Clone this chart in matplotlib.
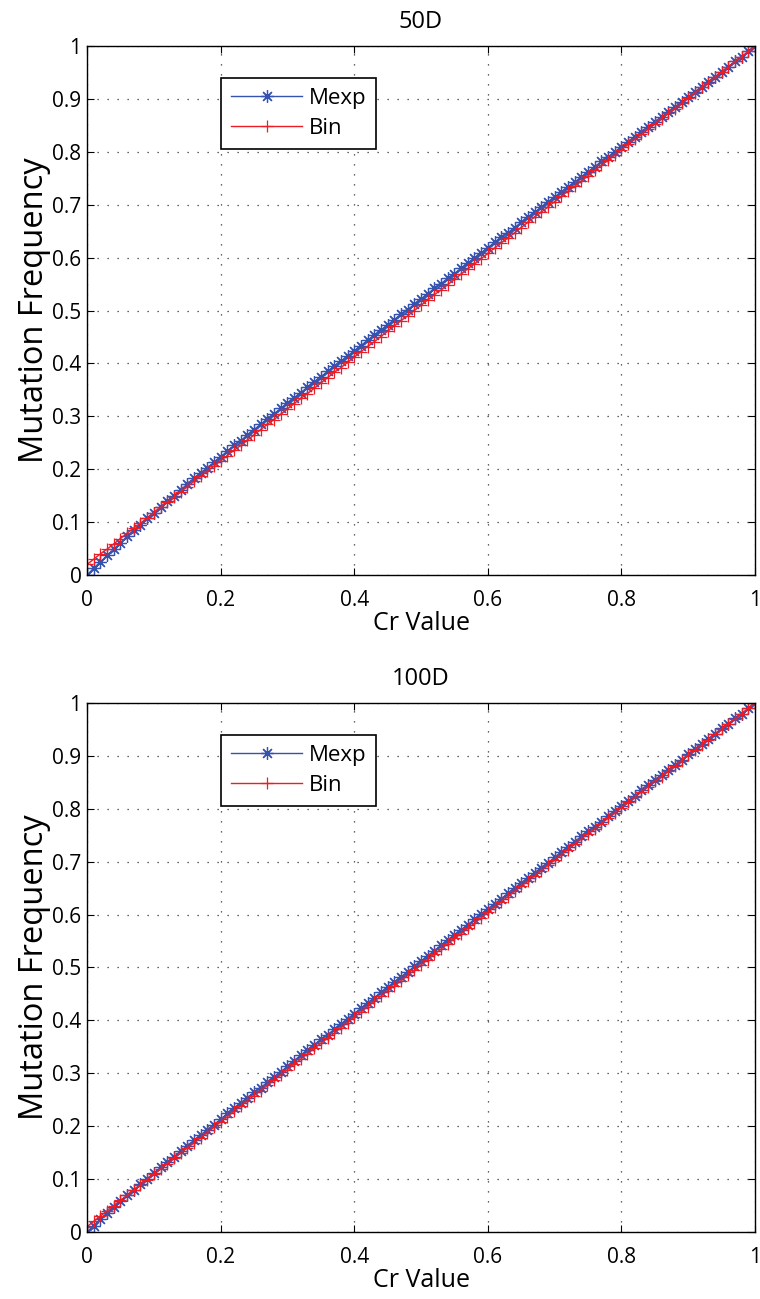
import matplotlib
matplotlib.use('Agg')
import matplotlib.pyplot as plt

plt.rcParams['font.family'] = ['Open Sans', 'DejaVu Sans']

cr = [0.00, 0.01, 0.02, 0.03, 0.04, 0.05, 0.06, 0.07, 0.08, 0.09,
      0.10, 0.11, 0.12, 0.13, 0.14, 0.15, 0.16, 0.17, 0.18, 0.19,
      0.20, 0.21, 0.22, 0.23, 0.24, 0.25, 0.26, 0.27, 0.28, 0.29,
      0.30, 0.31, 0.32, 0.33, 0.34, 0.35, 0.36, 0.37, 0.38, 0.39,
      0.40, 0.41, 0.42, 0.43, 0.44, 0.45, 0.46, 0.47, 0.48, 0.49,
      0.50, 0.51, 0.52, 0.53, 0.54, 0.55, 0.56, 0.57, 0.58, 0.59,
      0.60, 0.61, 0.62, 0.63, 0.64, 0.65, 0.66, 0.67, 0.68, 0.69,
      0.70, 0.71, 0.72, 0.73, 0.74, 0.75, 0.76, 0.77, 0.78, 0.79,
      0.80, 0.81, 0.82, 0.83, 0.84, 0.85, 0.86, 0.87, 0.88, 0.89,
      0.90, 0.91, 0.92, 0.93, 0.94, 0.95, 0.96, 0.97, 0.98, 0.99,
      1.00]

# 50D
mexp_50 = [0.000, 0.013, 0.025, 0.037, 0.049, 0.061, 0.073, 0.085, 0.095, 0.107,
           0.118, 0.129, 0.140, 0.150, 0.161, 0.172, 0.183, 0.193, 0.203, 0.213,
           0.224, 0.234, 0.245, 0.254, 0.265, 0.275, 0.285, 0.295, 0.305, 0.315,
           0.325, 0.335, 0.345, 0.355, 0.365, 0.375, 0.385, 0.395, 0.404, 0.414,
           0.424, 0.434, 0.444, 0.453, 0.463, 0.473, 0.483, 0.493, 0.502, 0.512,
           0.522, 0.532, 0.542, 0.551, 0.561, 0.570, 0.580, 0.590, 0.599, 0.609,
           0.619, 0.629, 0.639, 0.647, 0.657, 0.667, 0.677, 0.686, 0.695, 0.705,
           0.715, 0.724, 0.734, 0.743, 0.752, 0.762, 0.772, 0.782, 0.790, 0.800,
           0.810, 0.819, 0.829, 0.837, 0.847, 0.857, 0.866, 0.876, 0.885, 0.894,
           0.904, 0.914, 0.923, 0.932, 0.942, 0.952, 0.961, 0.971, 0.980, 0.990,
           1.000]
bin_50 = [0.020, 0.030, 0.040, 0.049, 0.059, 0.069, 0.079, 0.089, 0.098, 0.108,
          0.118, 0.128, 0.138, 0.147, 0.157, 0.167, 0.177, 0.187, 0.196, 0.206,
          0.216, 0.226, 0.236, 0.245, 0.255, 0.265, 0.275, 0.285, 0.294, 0.304,
          0.314, 0.324, 0.334, 0.343, 0.353, 0.363, 0.373, 0.383, 0.392, 0.402,
          0.412, 0.422, 0.432, 0.441, 0.451, 0.461, 0.471, 0.481, 0.490, 0.500,
          0.510, 0.520, 0.530, 0.539, 0.549, 0.559, 0.569, 0.579, 0.588, 0.598,
          0.608, 0.618, 0.628, 0.637, 0.647, 0.657, 0.667, 0.677, 0.686, 0.696,
          0.706, 0.716, 0.726, 0.735, 0.745, 0.755, 0.765, 0.775, 0.784, 0.794,
          0.804, 0.814, 0.824, 0.833, 0.843, 0.853, 0.863, 0.873, 0.882, 0.892,
          0.902, 0.912, 0.922, 0.931, 0.941, 0.951, 0.961, 0.971, 0.980, 0.990,
          1.000]

# 100D
mexp_100 = [0.000, 0.012, 0.024, 0.036, 0.048, 0.059, 0.069, 0.080, 0.090, 0.101,
            0.111, 0.122, 0.132, 0.142, 0.153, 0.163, 0.173, 0.183, 0.193, 0.203,
            0.213, 0.224, 0.234, 0.244, 0.254, 0.264, 0.273, 0.283, 0.293, 0.303,
            0.313, 0.324, 0.334, 0.344, 0.354, 0.364, 0.373, 0.383, 0.393, 0.403,
            0.413, 0.423, 0.433, 0.443, 0.453, 0.463, 0.472, 0.482, 0.492, 0.502,
            0.512, 0.522, 0.532, 0.542, 0.552, 0.562, 0.571, 0.581, 0.591, 0.601,
            0.611, 0.620, 0.630, 0.640, 0.650, 0.660, 0.669, 0.679, 0.689, 0.698,
            0.708, 0.718, 0.728, 0.738, 0.748, 0.758, 0.766, 0.776, 0.786, 0.796,
            0.806, 0.815, 0.825, 0.835, 0.845, 0.855, 0.864, 0.873, 0.883, 0.893,
            0.903, 0.913, 0.923, 0.932, 0.942, 0.952, 0.961, 0.971, 0.980, 0.990,
            1.000]
bin_100 = [0.010, 0.020, 0.030, 0.040, 0.050, 0.060, 0.069, 0.079, 0.089, 0.099,
           0.109, 0.119, 0.129, 0.139, 0.149, 0.159, 0.168, 0.178, 0.188, 0.198,
           0.208, 0.218, 0.228, 0.238, 0.248, 0.258, 0.267, 0.277, 0.287, 0.297,
           0.307, 0.317, 0.327, 0.337, 0.347, 0.357, 0.366, 0.376, 0.386, 0.396,
           0.406, 0.416, 0.426, 0.436, 0.446, 0.456, 0.465, 0.475, 0.485, 0.495,
           0.505, 0.515, 0.525, 0.535, 0.545, 0.555, 0.564, 0.574, 0.584, 0.594,
           0.604, 0.614, 0.624, 0.634, 0.644, 0.654, 0.663, 0.673, 0.683, 0.693,
           0.703, 0.713, 0.723, 0.733, 0.743, 0.753, 0.762, 0.772, 0.782, 0.792,
           0.802, 0.812, 0.822, 0.832, 0.842, 0.852, 0.861, 0.871, 0.881, 0.891,
           0.901, 0.911, 0.921, 0.931, 0.941, 0.951, 0.960, 0.970, 0.980, 0.990,
           1.000]

panels = [('50D', mexp_50, bin_50), ('100D', mexp_100, bin_100)]
xticks = [0, 0.2, 0.4, 0.6, 0.8, 1]
xticklabels = ['0', '0.2', '0.4', '0.6', '0.8', '1']
yticks = [0, 0.1, 0.2, 0.3, 0.4, 0.5, 0.6, 0.7, 0.8, 0.9, 1]
yticklabels = ['0', '0.1', '0.2', '0.3', '0.4', '0.5', '0.6', '0.7', '0.8', '0.9', '1']

fig = plt.figure(figsize=(7.6, 12.99), dpi=100)
axes_rects = [[0.1145, 0.5573, 0.879, 0.4072],
              [0.1145, 0.0516, 0.879, 0.4072]]

# asterisk marker: 8 arms (plus + cross)
star = (8, 2, 0)

for rect, (title, mexp, binv) in zip(axes_rects, panels):
    ax = fig.add_axes(rect)
    ax.plot(cr, mexp, color='#3452b0', marker=star, markersize=9,
            markeredgewidth=0.9, linewidth=1.0, label='Mexp')
    ax.plot(cr, binv, color='#ee1c24', marker='+', markersize=9,
            markeredgewidth=0.9, linewidth=1.0, label='Bin')
    ax.set_xlim(0, 1)
    ax.set_ylim(0, 1)
    ax.set_xticks(xticks)
    ax.set_xticklabels(xticklabels)
    ax.set_yticks(yticks)
    ax.set_yticklabels(yticklabels)
    ax.grid(True, linestyle=(0, (1, 7)), color='#333333', linewidth=0.9)
    ax.tick_params(direction='in', top=True, right=True, labelsize=15, length=5)
    ax.tick_params(axis='x', pad=11)
    ax.tick_params(axis='y', pad=4)
    for s in ax.spines.values():
        s.set_linewidth(1.0)
    ax.set_title(title, fontsize=17, pad=13)
    ax.set_xlabel('Cr Value', fontsize=18, labelpad=0)
    ax.set_ylabel('Mutation Frequency', fontsize=23.5, labelpad=1)
    leg = ax.legend(loc='upper left', bbox_to_anchor=(0.2006, 0.9395), fontsize=16,
                    fancybox=False, edgecolor='black', framealpha=1, borderaxespad=0,
                    handlelength=3.2, borderpad=0.45, labelspacing=0.4, handletextpad=0.3)
    leg.get_frame().set_linewidth(1.2)

fig.savefig('out.png', dpi=100)
